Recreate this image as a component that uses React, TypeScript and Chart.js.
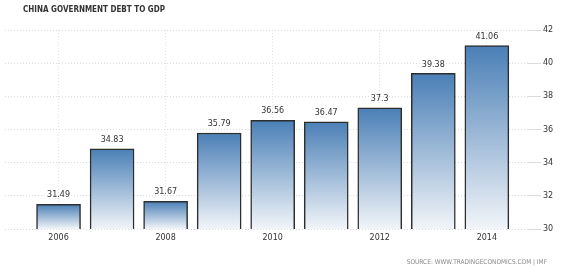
import React, { useEffect, useRef } from "react";
import { Chart, registerables } from "chart.js";

Chart.register(...registerables);

const years = [2006, 2007, 2008, 2009, 2010, 2011, 2012, 2013, 2014];
const debtToGdp = [31.49, 34.83, 31.67, 35.79, 36.56, 36.47, 37.3, 39.38, 41.06];
const yTicks = [30, 32, 34, 36, 38, 40, 42];
const xTickYears = [2006, 2008, 2010, 2012, 2014];
const titleText = "CHINA GOVERNMENT DEBT TO GDP";
const sourceText = "SOURCE: WWW.TRADINGECONOMICS.COM | IMF";

const FONT = "'DejaVu Sans', Tahoma, sans-serif";
const FONT_COND = "'DejaVu Sans Condensed', 'DejaVu Sans', sans-serif";

const overlayPlugin = {
  id: "overlay",
  afterDatasetsDraw(chart: any) {
    const ctx = chart.ctx;
    const meta = chart.getDatasetMeta(0);
    ctx.save();
    ctx.fillStyle = "#333";
    ctx.font = `8px ${FONT}`;
    ctx.textAlign = "center";
    ctx.textBaseline = "middle";
    meta.data.forEach((el: any, i: number) => {
      ctx.fillText(String(debtToGdp[i]), el.x, el.y - 9);
    });
    ctx.restore();
  },
  afterDraw(chart: any) {
    const ctx = chart.ctx;
    ctx.save();
    ctx.fillStyle = "#333";
    ctx.font = `bold 8px ${FONT_COND}`;
    ctx.textAlign = "left";
    ctx.textBaseline = "middle";
    ctx.fillText(titleText, 23, 10);
    ctx.fillStyle = "#8a8a8a";
    ctx.font = `6.5px ${FONT_COND}`;
    ctx.textAlign = "right";
    ctx.fillText(sourceText, 547, 262);
    ctx.restore();
  },
};

export default function App() {
  const ref = useRef<HTMLCanvasElement>(null);
  useEffect(() => {
    if (!ref.current) return;
    const chart = new Chart(ref.current, {
      type: "bar",
      data: {
        datasets: [
          {
            data: years.map((y, i) => ({ x: y, y: debtToGdp[i] })),
            backgroundColor: (c: any) => {
              const area = c.chart.chartArea;
              const ys = c.chart.scales && c.chart.scales.y;
              if (!area || !ys || !c.raw) return "#4a7db4";
              const top = ys.getPixelForValue(c.raw.y);
              const g = c.chart.ctx.createLinearGradient(0, top, 0, area.bottom);
              g.addColorStop(0, "#4a7fb6");
              g.addColorStop(1, "#f2f5f9");
              return g;
            },
            borderColor: "#2e2e2e",
            borderWidth: { top: 1.5, left: 1.5, right: 1.5, bottom: 2 } as any,
            borderSkipped: false,
            barThickness: 44,
          } as any,
        ],
      },
      options: {
        animation: false,
        responsive: true,
        maintainAspectRatio: false,
        layout: { padding: { left: 5, top: 30, right: 0, bottom: 0 } },
        plugins: { legend: { display: false }, tooltip: { enabled: false }, title: { display: false } },
        scales: {
          x: {
            type: "linear",
            offset: false,
            min: 2005,
            max: 2014.75,
            afterBuildTicks: (axis: any) => {
              axis.ticks = xTickYears.map((v) => ({ value: v }));
            },
            afterFit: (axis: any) => {
              axis.height = 42;
            },
            grid: {
              color: "#e2e2e2",
              drawTicks: false,
              offset: false,
            } as any,
            border: { display: false, dash: [1, 2] },
            ticks: {
              color: "#333",
              font: { family: FONT, size: 8 },
              padding: 4,
              callback: (v: any) => String(v),
            },
          },
          y: {
            position: "right",
            min: 30,
            max: 42,
            afterBuildTicks: (axis: any) => {
              axis.ticks = yTicks.map((v) => ({ value: v }));
            },
            afterFit: (axis: any) => {
              axis.width = 38;
            },
            grid: {
              color: "#dcdcdc",
              drawTicks: true,
              tickLength: 14,
            },
            border: { display: false, dash: [1, 2] },
            ticks: {
              color: "#333",
              font: { family: FONT, size: 8 },
              padding: 2,
            },
          },
        },
      } as any,
      plugins: [overlayPlugin],
    });
    return () => chart.destroy();
  }, []);
  return (
    <div style={{ position: "fixed", left: 0, top: 0, width: 565, height: 271, background: "#fff" }}>
      <canvas ref={ref} />
    </div>
  );
}
